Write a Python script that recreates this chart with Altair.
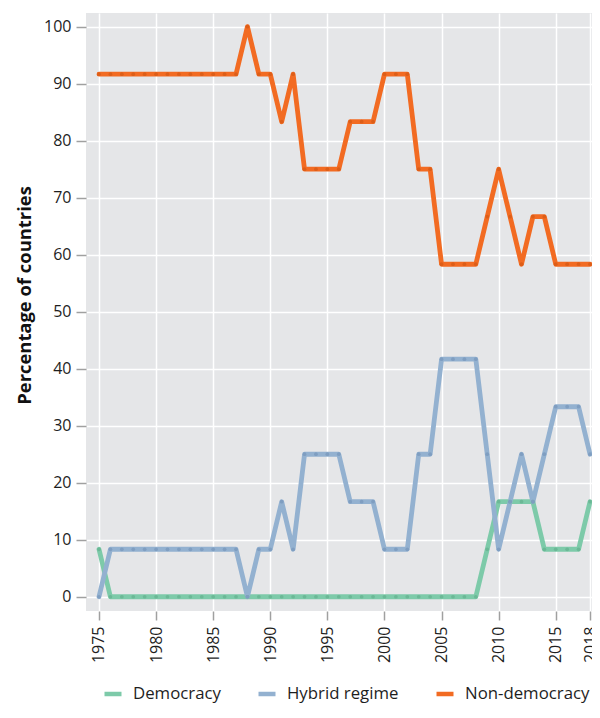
import altair as alt
import pandas as pd

years = [1975, 1976, 1977, 1978, 1979, 1980, 1981, 1982, 1983, 1984,
         1985, 1986, 1987, 1988, 1989, 1990, 1991, 1992, 1993, 1994,
         1995, 1996, 1997, 1998, 1999, 2000, 2001, 2002, 2003, 2004,
         2005, 2006, 2007, 2008, 2009, 2010, 2011, 2012, 2013, 2014,
         2015, 2016, 2017, 2018]

democracy = [8.33, 0, 0, 0, 0, 0, 0, 0, 0, 0,
             0, 0, 0, 0, 0, 0, 0, 0, 0, 0,
             0, 0, 0, 0, 0, 0, 0, 0, 0, 0,
             0, 0, 0, 0, 8.33, 16.67, 16.67, 16.67, 16.67, 8.33,
             8.33, 8.33, 8.33, 16.67]

hybrid = [0, 8.33, 8.33, 8.33, 8.33, 8.33, 8.33, 8.33, 8.33, 8.33,
          8.33, 8.33, 8.33, 0, 8.33, 8.33, 16.67, 8.33, 25, 25,
          25, 25, 16.67, 16.67, 16.67, 8.33, 8.33, 8.33, 25, 25,
          41.67, 41.67, 41.67, 41.67, 25, 8.33, 16.67, 25, 16.67, 25,
          33.33, 33.33, 33.33, 25]

non_democracy = [91.67, 91.67, 91.67, 91.67, 91.67, 91.67, 91.67, 91.67, 91.67, 91.67,
                 91.67, 91.67, 91.67, 100, 91.67, 91.67, 83.33, 91.67, 75, 75,
                 75, 75, 83.33, 83.33, 83.33, 91.67, 91.67, 91.67, 75, 75,
                 58.33, 58.33, 58.33, 58.33, 66.67, 75, 66.67, 58.33, 66.67, 66.67,
                 58.33, 58.33, 58.33, 58.33]

regimes = ["Democracy", "Hybrid regime", "Non-democracy"]
line_colors = ["#7dcaa9", "#93b1d0", "#f26b22"]
point_colors = ["#6bb896", "#7f9ec1", "#dd5e18"]
x_ticks = [1975, 1980, 1985, 1990, 1995, 2000, 2005, 2010, 2015, 2018]
y_ticks = [0, 10, 20, 30, 40, 50, 60, 70, 80, 90, 100]

rows = []
for series_name, vals in zip(regimes, [democracy, hybrid, non_democracy]):
    for yr, v in zip(years, vals):
        rows.append({"year": yr, "regime": series_name, "value": v,
                     "order": regimes.index(series_name)})
df = pd.DataFrame(rows)

FONT = "Open Sans"

x_enc = alt.X("year:Q",
              scale=alt.Scale(domain=[1973.862, 2018.175], nice=False, zero=False),
              axis=alt.Axis(values=x_ticks, labelAngle=-90, format="d", title=None,
                            domain=False, tickSize=9, tickWidth=1.5, tickColor="#a0a0a0",
                            labelPadding=6, labelFontSize=16, labelFont=FONT,
                            labelColor="#1e1e1e", grid=True, gridColor="white",
                            gridWidth=1.5, labelBaseline="middle", labelAlign="right",
                            labelFlush=False, labelOverlap=False))
y_enc = alt.Y("value:Q",
              scale=alt.Scale(domain=[-2.5, 102.4], nice=False, zero=False),
              axis=alt.Axis(values=y_ticks, title="Percentage of countries",
                            domain=False, tickSize=10, tickWidth=1.5, tickColor="#a0a0a0",
                            labelPadding=5, labelFontSize=16, labelFont=FONT,
                            labelColor="#1e1e1e", grid=True, gridColor="white",
                            gridWidth=1.5, titleFont=FONT, titleFontSize=18.4,
                            titleFontWeight="bold", titleColor="#111111",
                            titleAngle=-90, titleX=-62, titleY=282,
                            titleAlign="center", titleBaseline="middle",
                            labelFlush=False, labelOverlap=False))

lines = alt.Chart(df).mark_line(strokeWidth=4.8, strokeJoin="round", strokeCap="round").encode(
    x=x_enc,
    y=y_enc,
    color=alt.Color("regime:N",
                    scale=alt.Scale(domain=regimes, range=line_colors),
                    legend=alt.Legend(title=None, orient="none", direction="horizontal",
                                      legendX=16, legendY=670, symbolType="stroke",
                                      symbolSize=289, symbolStrokeWidth=4.5,
                                      labelFont=FONT, labelFontSize=16.8,
                                      labelColor="#1e1e1e", labelOffset=9,
                                      columnPadding=28, padding=0)),
    detail="regime:N",
    order="order:Q",
)

points = alt.Chart(df).mark_circle(size=14, opacity=1).encode(
    x="year:Q",
    y="value:Q",
    color=alt.Color("regime:N",
                    scale=alt.Scale(domain=regimes, range=point_colors),
                    legend=None),
)

chart = alt.layer(lines, points).resolve_scale(color="independent").properties(
    width=506,
    height=598,
    autosize=alt.AutoSizeParams(type="none"),
    padding={"left": 78, "top": 5, "right": 0, "bottom": 95},
    background="white",
).configure_view(fill="#e5e6e8", stroke=None)

chart.save("out.html", embed_options={"renderer": "svg", "actions": False})
